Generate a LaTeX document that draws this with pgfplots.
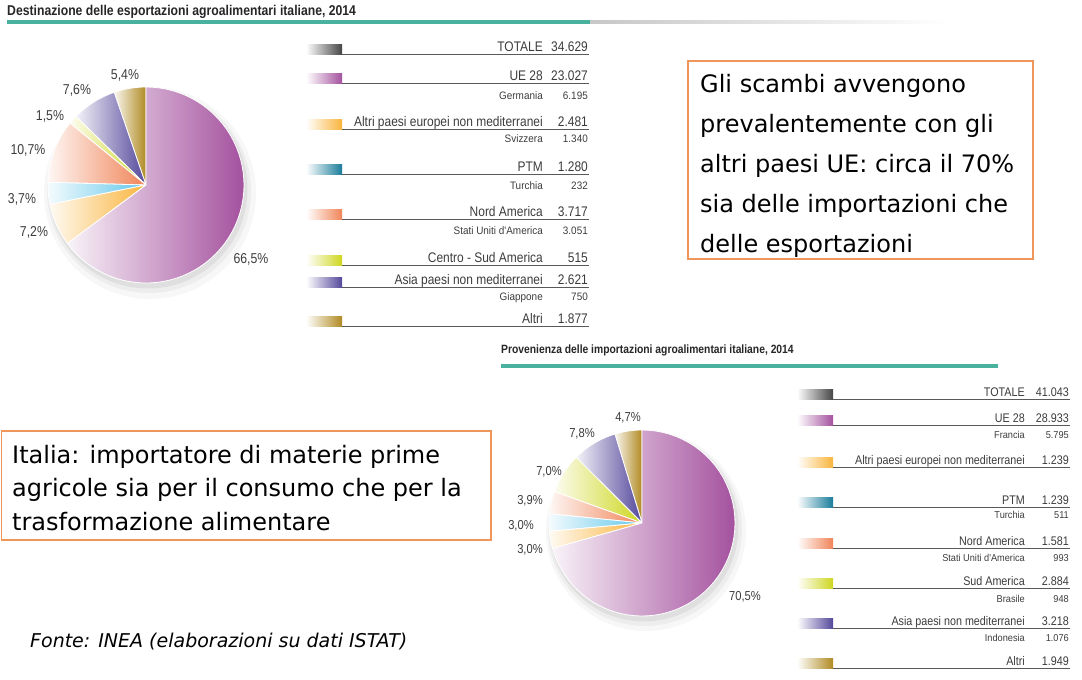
\documentclass[border=0pt]{standalone}
\usepackage{pgfplots}
\pgfplotsset{compat=1.18}
\usepackage{fontspec}
\setmainfont{DejaVu Sans}
\newfontfamily\cond[FakeStretch=0.86]{Liberation Sans}
\newfontfamily\subf[FakeStretch=0.92]{Liberation Sans}

\definecolor{cUE}{RGB}{164,81,158}
\definecolor{cEU}{RGB}{249,180,60}
\definecolor{cPTMp}{RGB}{95,198,234}
\definecolor{cPTM}{RGB}{26,124,154}
\definecolor{cNA}{RGB}{240,132,88}
\definecolor{cSA}{RGB}{206,214,30}
\definecolor{cAS}{RGB}{84,72,155}
\definecolor{cAL}{RGB}{176,138,34}
\definecolor{cTOT}{RGB}{70,70,70}
\definecolor{cTeal}{RGB}{72,178,158}
\definecolor{cBox}{RGB}{240,150,90}
\definecolor{cLab}{RGB}{60,60,60}

% pie slice: cx, cy, r, total, start, value, colour
\newcommand{\slice}[7]{%
 \pgfmathsetmacro\aA{90+(#5)/(#4)*360}%
 \pgfmathsetmacro\aB{90+(#5+#6)/(#4)*360}%
 \edef\doit{\noexpand\addplot[draw=white, line width=0.8pt, left color=#7!7!white, right color=#7, domain=\aA:\aB, samples=60, variable=\noexpand\t, forget plot] ({#1+#3*cos(\noexpand\t)},{#2-#3*sin(\noexpand\t)}) -- (axis cs:#1,#2) -- cycle;}%
 \doit}

% legend main row: xbar, xend, xlab, xval, yline, label, value, colour, font
\newcommand{\mrow}[9]{%
 \fill[left color=white, right color=#8] (axis cs:#1,#5) rectangle ++(36pt,10pt);
 \draw[line width=1pt, black!65] (axis cs:#1,#5) ++(36pt,0pt) -- (axis cs:#2,#5);
 \node[anchor=base east, inner sep=0pt, yshift=3pt, text=cLab] at (axis cs:#3,#5) {#9#6};
 \node[anchor=base east, inner sep=0pt, yshift=3pt, text=cLab] at (axis cs:#4,#5) {#9#7};}
% legend sub row: xlab, xval, ybase, label, value, font
\newcommand{\srow}[6]{%
 \node[anchor=base east, inner sep=0pt, text=cLab] at (axis cs:#1,#3) {#6#4};
 \node[anchor=base east, inner sep=0pt, text=cLab] at (axis cs:#2,#3) {#6#5};}

\def\ftA{\cond\fontsize{13.9}{15}\selectfont}
\def\ftAs{\subf\fontsize{10.8}{12}\selectfont}
\def\ftB{\cond\fontsize{12.5}{14}\selectfont}
\def\ftBs{\subf\fontsize{10}{11}\selectfont}
\def\ftPA{\cond\fontsize{14.3}{16}\selectfont}
\def\ftPB{\cond\fontsize{13}{15}\selectfont}

\begin{document}
\begin{tikzpicture}
\begin{axis}[hide axis, scale only axis, width=1082pt, height=680pt,
  xmin=0, xmax=1082, ymin=0, ymax=680, y dir=reverse, clip=false]
\path (axis cs:0,0) rectangle (axis cs:1082,680);

% ---------- top title ----------
\node[anchor=base west, inner sep=0pt, text=black!85] at (axis cs:7,16) {\cond\bfseries\fontsize{14.2}{16}\selectfont Destinazione delle esportazioni agroalimentari italiane, 2014};
\draw[cTeal, line width=3.5pt] (axis cs:7,22) -- (axis cs:590,22);
\fill[left color=black!22, right color=white] (axis cs:590,20.5) rectangle (axis cs:950,23.5);

% ---------- top pie (exports, %) ----------
\fill[black, opacity=0.03] (axis cs:150,193) circle[radius=106pt];
\fill[black, opacity=0.04] (axis cs:149,191) circle[radius=102pt];
\fill[black, opacity=0.06] (axis cs:148,189) circle[radius=99.5pt];
\slice{146}{185}{98}{102.6}{0}{5.4}{cAL}
\slice{146}{185}{98}{102.6}{5.4}{7.6}{cAS}
\slice{146}{185}{98}{102.6}{13.0}{1.5}{cSA}
\slice{146}{185}{98}{102.6}{14.5}{10.7}{cNA}
\slice{146}{185}{98}{102.6}{25.2}{3.7}{cPTMp}
\slice{146}{185}{98}{102.6}{28.9}{7.2}{cEU}
\slice{146}{185}{98}{102.6}{36.1}{66.5}{cUE}
\node[text=cLab] at (axis cs:125,75) {\ftPA 5,4\%};
\node[text=cLab] at (axis cs:77,90) {\ftPA 7,6\%};
\node[text=cLab] at (axis cs:50,116) {\ftPA 1,5\%};
\node[text=cLab] at (axis cs:28,150) {\ftPA 10,7\%};
\node[text=cLab] at (axis cs:22,199) {\ftPA 3,7\%};
\node[text=cLab] at (axis cs:34,232) {\ftPA 7,2\%};
\node[text=cLab] at (axis cs:251,259) {\ftPA 66,5\%};

% ---------- top legend ----------
\mrow{306}{589}{543}{588}{54}{TOTALE}{34.629}{cTOT}{\ftA}
\mrow{306}{589}{543}{588}{83}{UE 28}{23.027}{cUE}{\ftA}
\srow{543}{588}{99}{Germania}{6.195}{\ftAs}
\mrow{306}{589}{543}{588}{129}{Altri paesi europei non mediterranei}{2.481}{cEU}{\ftA}
\srow{543}{588}{142}{Svizzera}{1.340}{\ftAs}
\mrow{306}{589}{543}{588}{174}{PTM}{1.280}{cPTM}{\ftA}
\srow{543}{588}{189}{Turchia}{232}{\ftAs}
\mrow{306}{589}{543}{588}{219}{Nord America}{3.717}{cNA}{\ftA}
\srow{543}{588}{234}{Stati Uniti d'America}{3.051}{\ftAs}
\mrow{306}{589}{543}{588}{265}{Centro - Sud America}{515}{cSA}{\ftA}
\mrow{306}{589}{543}{588}{287}{Asia paesi non mediterranei}{2.621}{cAS}{\ftA}
\srow{543}{588}{300}{Giappone}{750}{\ftAs}
\mrow{306}{589}{543}{588}{326}{Altri}{1.877}{cAL}{\ftA}

% ---------- top text box ----------
\draw[cBox, line width=1.2pt] (axis cs:688,61) rectangle (axis cs:1033,259);
\node[anchor=base west, inner sep=0pt] at (axis cs:700,92) {\fontsize{24}{28}\selectfont Gli scambi avvengono};
\node[anchor=base west, inner sep=0pt] at (axis cs:700,132) {\fontsize{24}{28}\selectfont prevalentemente con gli};
\node[anchor=base west, inner sep=0pt] at (axis cs:700,172) {\fontsize{24}{28}\selectfont altri paesi UE: circa il 70\%};
\node[anchor=base west, inner sep=0pt] at (axis cs:700,212) {\fontsize{24}{28}\selectfont sia delle importazioni che};
\node[anchor=base west, inner sep=0pt] at (axis cs:700,252) {\fontsize{24}{28}\selectfont delle esportazioni};

% ---------- bottom title ----------
\node[anchor=base west, inner sep=0pt, text=black!85] at (axis cs:501,353) {\cond\bfseries\fontsize{12}{14}\selectfont Provenienza delle importazioni agroalimentari italiane, 2014};
\draw[cTeal, line width=3.5pt] (axis cs:501,366) -- (axis cs:998,366);

% ---------- bottom pie (imports, %) ----------
\fill[black, opacity=0.03] (axis cs:646,531) circle[radius=100pt];
\fill[black, opacity=0.04] (axis cs:645,529) circle[radius=97pt];
\fill[black, opacity=0.06] (axis cs:644,527) circle[radius=94.5pt];
\slice{642}{523}{93}{99.9}{0}{4.7}{cAL}
\slice{642}{523}{93}{99.9}{4.7}{7.8}{cAS}
\slice{642}{523}{93}{99.9}{12.5}{7.0}{cSA}
\slice{642}{523}{93}{99.9}{19.5}{3.9}{cNA}
\slice{642}{523}{93}{99.9}{23.4}{3.0}{cPTMp}
\slice{642}{523}{93}{99.9}{26.4}{3.0}{cEU}
\slice{642}{523}{93}{99.9}{29.4}{70.5}{cUE}
\node[text=cLab] at (axis cs:628,418) {\ftPB 4,7\%};
\node[text=cLab] at (axis cs:582,434) {\ftPB 7,8\%};
\node[text=cLab] at (axis cs:549,472) {\ftPB 7,0\%};
\node[text=cLab] at (axis cs:530,501) {\ftPB 3,9\%};
\node[text=cLab] at (axis cs:521,526) {\ftPB 3,0\%};
\node[text=cLab] at (axis cs:530,550) {\ftPB 3,0\%};
\node[text=cLab] at (axis cs:745,597) {\ftPB 70,5\%};

% ---------- bottom legend ----------
\mrow{797}{1070}{1025}{1069}{399}{TOTALE}{41.043}{cTOT}{\ftB}
\mrow{797}{1070}{1025}{1069}{425}{UE 28}{28.933}{cUE}{\ftB}
\srow{1025}{1069}{438.5}{Francia}{5.795}{\ftBs}
\mrow{797}{1070}{1025}{1069}{467}{Altri paesi europei non mediterranei}{1.239}{cEU}{\ftB}
\mrow{797}{1070}{1025}{1069}{507}{PTM}{1.239}{cPTM}{\ftB}
\srow{1025}{1069}{518.5}{Turchia}{511}{\ftBs}
\mrow{797}{1070}{1025}{1069}{548}{Nord America}{1.581}{cNA}{\ftB}
\srow{1025}{1069}{561.5}{Stati Uniti d'America}{993}{\ftBs}
\mrow{797}{1070}{1025}{1069}{588}{Sud America}{2.884}{cSA}{\ftB}
\srow{1025}{1069}{602.5}{Brasile}{948}{\ftBs}
\mrow{797}{1070}{1025}{1069}{628}{Asia paesi non mediterranei}{3.218}{cAS}{\ftB}
\srow{1025}{1069}{641.5}{Indonesia}{1.076}{\ftBs}
\mrow{797}{1070}{1025}{1069}{668}{Altri}{1.949}{cAL}{\ftB}

% ---------- bottom text box ----------
\draw[cBox, line width=1.2pt] (axis cs:1.5,431) rectangle (axis cs:491,540);
\node[anchor=base west, inner sep=0pt] at (axis cs:12,463) {\fontsize{24}{28}\selectfont Italia: importatore di materie prime};
\node[anchor=base west, inner sep=0pt] at (axis cs:12,496.5) {\fontsize{24}{28}\selectfont agricole sia per il consumo che per la};
\node[anchor=base west, inner sep=0pt] at (axis cs:12,530) {\fontsize{24}{28}\selectfont trasformazione alimentare};

% ---------- source ----------
\node[anchor=base west, inner sep=0pt] at (axis cs:30,647) {\itshape\fontsize{19}{22}\selectfont Fonte: INEA (elaborazioni su dati ISTAT)};
\end{axis}
\end{tikzpicture}
\end{document}
